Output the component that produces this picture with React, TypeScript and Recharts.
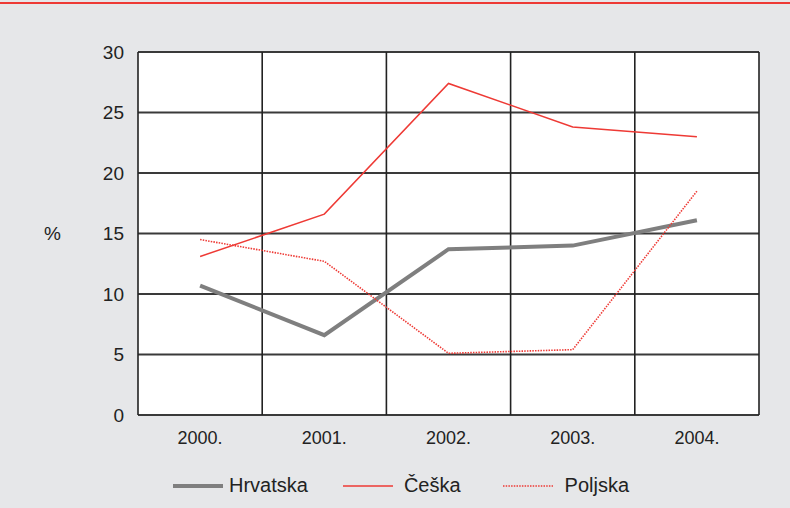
import React from "react";
import {
  CartesianGrid,
  Line,
  LineChart,
  ReferenceLine,
  XAxis,
  YAxis,
} from "recharts";

const years = ["2000.", "2001.", "2002.", "2003.", "2004."];
const hrvatska = [10.7, 6.6, 13.7, 14.0, 16.1];
const ceska = [13.1, 16.6, 27.4, 23.8, 23.0];
const poljska = [14.5, 12.7, 5.1, 5.4, 18.5];
const yTicks = [0, 5, 10, 15, 20, 25, 30];
// band edges between the year columns
const bandEdges = [-0.5, 0.5, 1.5, 2.5, 3.5, 4.5];

const data = years.map((year, i) => ({
  idx: i,
  year,
  hrvatska: hrvatska[i],
  ceska: ceska[i],
  poljska: poljska[i],
}));

const FONT = "'Liberation Sans', Arial, Helvetica, sans-serif";
const TEXT = "#222222";
const RED = "#ee3a35";

const series = [
  { key: "hrvatska", name: "Hrvatska", stroke: "#7f7f7f", width: 4, dash: undefined, textGap: 6, gap: 35 },
  { key: "ceska", name: "Češka", stroke: RED, width: 1.5, dash: undefined, textGap: 11, gap: 42 },
  { key: "poljska", name: "Poljska", stroke: RED, width: 1.6, dash: "1.5 1.2", textGap: 12, gap: 0 },
];

function LegendRow() {
  return (
    <div
      style={{
        position: "absolute",
        left: 173,
        top: 474,
        display: "flex",
        alignItems: "center",
        fontFamily: FONT,
        fontSize: 20,
        color: TEXT,
      }}
    >
      {series.map((s) => (
        <div key={s.key} style={{ display: "flex", alignItems: "center", marginRight: s.gap }}>
          <svg width={50} height={10} style={{ marginRight: s.textGap }}>
            <line
              x1={0}
              y1={5}
              x2={50}
              y2={5}
              stroke={s.stroke}
              strokeWidth={s.width}
              strokeDasharray={s.dash}
            />
          </svg>
          <span>{s.name}</span>
        </div>
      ))}
    </div>
  );
}

export default function App() {
  return (
    <div
      style={{
        position: "absolute",
        left: 0,
        top: 0,
        width: 790,
        height: 508,
        background: "#e6e7e9",
        overflow: "hidden",
      }}
    >
      <div
        style={{
          position: "absolute",
          left: 0,
          top: 2,
          width: 790,
          height: 2,
          background: RED,
        }}
      />
      <LineChart
        width={790}
        height={508}
        data={data}
        margin={{ top: 52, right: 31, bottom: 63, left: 0 }}
      >
        <CartesianGrid
          vertical={false}
          fill="#ffffff"
          stroke="#3a3a3a"
          strokeWidth={2}
        />
        {bandEdges.map((x) => (
          <ReferenceLine key={x} x={x} stroke="#222" strokeWidth={1.6} />
        ))}
        <XAxis
          dataKey="idx"
          type="number"
          domain={[-0.5, 4.5]}
          ticks={[0, 1, 2, 3, 4]}
          tickFormatter={(v) => years[v]}
          axisLine={false}
          tickLine={false}
          tickSize={0}
          tickMargin={16}
          tick={{ fill: TEXT, fontSize: 18, fontFamily: FONT }}
        />
        <YAxis
          width={138}
          domain={[0, 30]}
          ticks={yTicks}
          axisLine={false}
          tickLine={false}
          tickSize={0}
          tickMargin={14}
          tick={{ fill: TEXT, fontSize: 19, fontFamily: FONT }}
          label={{
            value: "%",
            position: "insideLeft",
            offset: 44,
            fill: TEXT,
            fontSize: 19,
            fontFamily: FONT,
          }}
        />
        {series.map((s) => (
          <Line
            key={s.key}
            type="linear"
            dataKey={s.key}
            name={s.name}
            stroke={s.stroke}
            strokeWidth={s.width}
            strokeDasharray={s.dash}
            dot={false}
            activeDot={false}
            isAnimationActive={false}
          />
        ))}
      </LineChart>
      <LegendRow />
    </div>
  );
}
